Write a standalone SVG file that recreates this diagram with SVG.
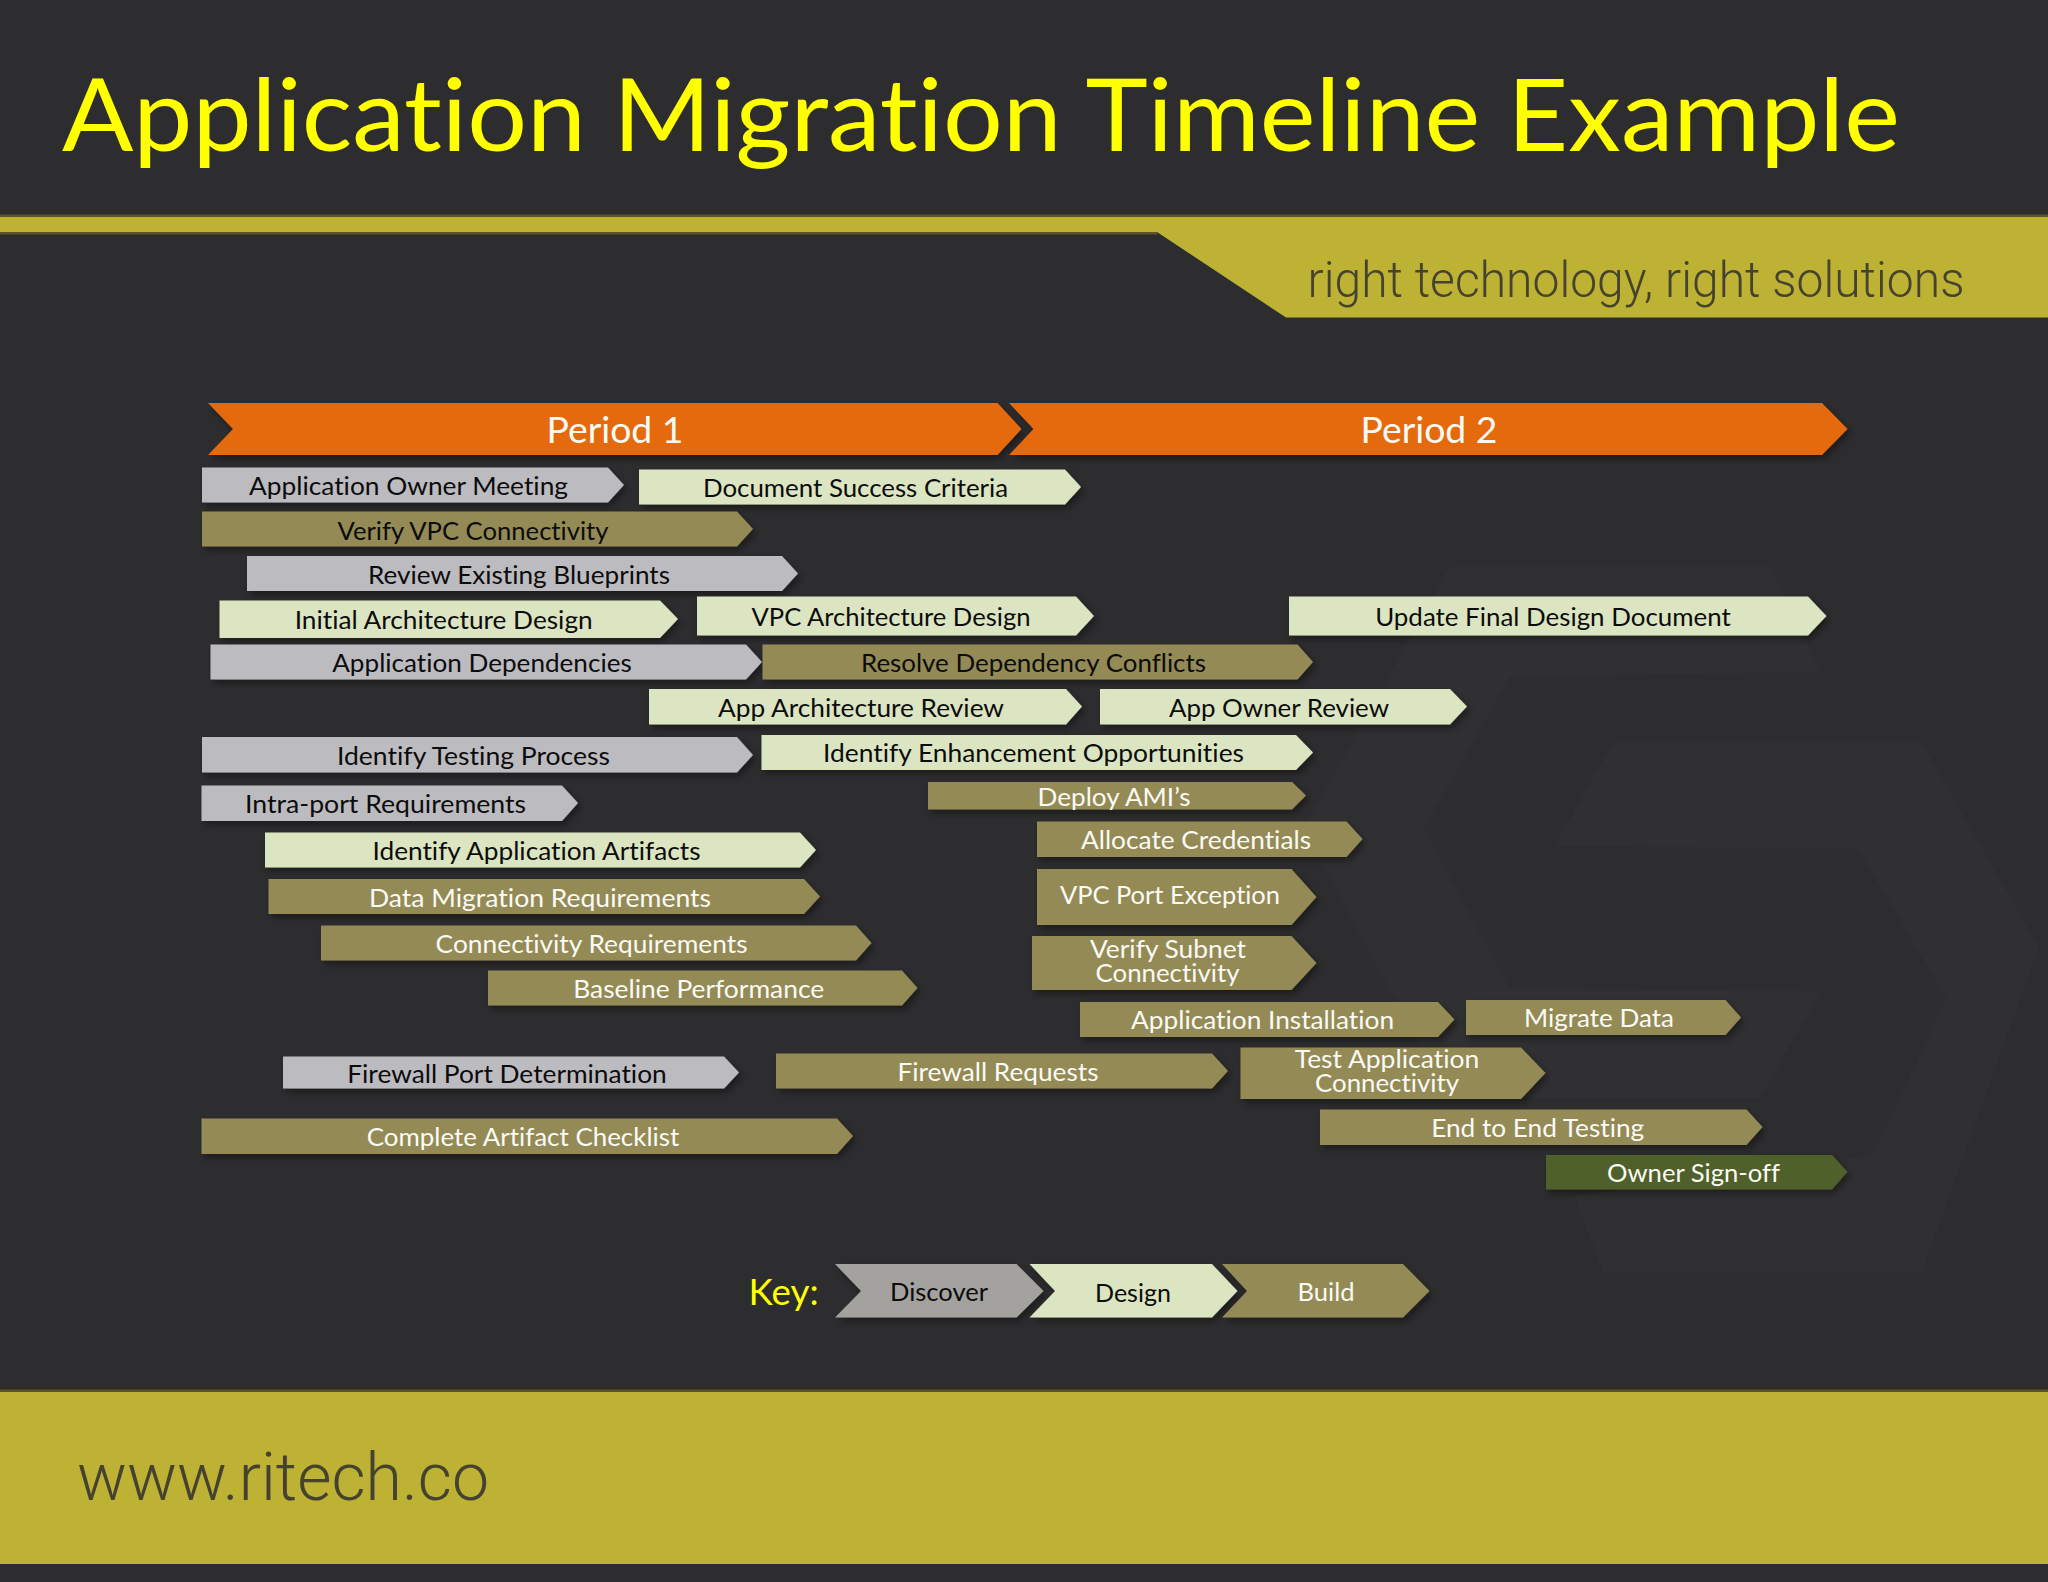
<svg xmlns="http://www.w3.org/2000/svg" width="2048" height="1582" viewBox="0 0 2048 1582">
<defs>
<filter id="sh" x="-5%" y="-20%" width="112%" height="150%"><feDropShadow dx="3" dy="4" stdDeviation="3.500" flood-color="#000" flood-opacity="0.38"/></filter>
</defs>
<style>
text{font-family:"Lato","Liberation Sans",sans-serif;text-anchor:middle;font-variant-ligatures:none}
.t{font-size:25.5px}
.w{fill:#fbfbf6}
.k{fill:#0c0c0c}
.bar{filter:url(#sh)}
.gray{fill:#bcbbc0}
.lime{fill:#dbe5c2}
.olive{fill:#948a55}
.dkgreen{fill:#4f6129}
.orange{fill:#e56b0d}
.stone{fill:#a3a29e}
.gold{fill:#bdb233}
.edge{fill:#5c5426}
.wm{fill:#302f31}
.brand{font-family:"Roboto","Liberation Sans",sans-serif;font-weight:300;fill:#45432f}
</style>
<rect width="2048" height="1582" fill="#2d2c2e"/>
<g id="watermark">
<polygon class="wm" points="1449,567 1770,567 1821,672 1510,677 1424,829 1510,988 1821,991 1760,1098 1447,1098 1304,829"/>
<polygon class="wm" points="1613,743 1922,743 2039,947 1922,1272 1603,1272 1574,1196 1873,1155 1946,998 1858,849 1554,846"/>
</g>
<g id="header">
<rect x="0" y="214.500" width="2048" height="3" class="edge"/>
<polygon class="edge" points="0,232 1157,232 1158,234.500 0,234.500"/>
<polygon class="gold" points="0,217 2048,217 2048,317.500 1286,317.500 1157,232 0,232"/>
<text x="981" y="151" font-size="100" fill="#ffff00" textLength="1838" lengthAdjust="spacingAndGlyphs">Application Migration Timeline Example</text>
<text class="brand" x="1636" y="296.500" font-size="50" textLength="657" lengthAdjust="spacingAndGlyphs">right technology, right solutions</text>
</g>
<g id="footer">
<rect x="0" y="1389.500" width="2048" height="3" class="edge"/>
<rect x="0" y="1392" width="2048" height="172" class="gold"/>
<text class="brand" x="283" y="1500" font-size="67" textLength="412" lengthAdjust="spacingAndGlyphs">www.ritech.co</text>
</g>
<g id="period-1"><polygon class="bar orange" points="208,403 997.500,403 1021.500,429 997.500,455 208,455 233,429"/><text class="w" x="615" y="442.700" font-size="36" textLength="137" lengthAdjust="spacingAndGlyphs">Period 1</text></g>
<g id="period-2"><polygon class="bar orange" points="1009,403 1822,403 1847.500,429 1822,455 1009,455 1033.500,429"/><text class="w" x="1429" y="442.700" font-size="36" textLength="137" lengthAdjust="spacingAndGlyphs">Period 2</text></g>

<g id="application-owner-meeting"><polygon class="bar gray" points="202,467.500 608,467.500 624,485 608,502.500 202,502.500"/><text class="t k" x="408.500" y="495" textLength="319" lengthAdjust="spacingAndGlyphs">Application Owner Meeting</text></g>
<g id="document-success-criteria"><polygon class="bar lime" points="639,469.500 1065,469.500 1081,487 1065,504.500 639,504.500"/><text class="t k" x="855.500" y="496.500" textLength="305" lengthAdjust="spacingAndGlyphs">Document Success Criteria</text></g>
<g id="verify-vpc-connectivity"><polygon class="bar olive" points="202,511.500 737,511.500 753,529 737,546.500 202,546.500"/><text class="t k" x="473" y="539.500" textLength="271" lengthAdjust="spacingAndGlyphs">Verify VPC Connectivity</text></g>
<g id="review-existing-blueprints"><polygon class="bar gray" points="247,556 782,556 798,573.500 782,591 247,591"/><text class="t k" x="519" y="584" textLength="302" lengthAdjust="spacingAndGlyphs">Review Existing Blueprints</text></g>
<g id="initial-architecture-design"><polygon class="bar lime" points="219.500,600.500 660,600.500 678,619 660,638 219.500,638"/><text class="t k" x="443.700" y="629" textLength="298" lengthAdjust="spacingAndGlyphs">Initial Architecture Design</text></g>
<g id="vpc-architecture-design"><polygon class="bar lime" points="697,596.500 1076,596.500 1094,616 1076,635.500 697,635.500"/><text class="t k" x="891" y="625.700" textLength="279" lengthAdjust="spacingAndGlyphs">VPC Architecture Design</text></g>
<g id="update-final-design-document"><polygon class="bar lime" points="1289,596.500 1808,596.500 1826.500,616 1808,635.500 1289,635.500"/><text class="t k" x="1553" y="626" textLength="355.600" lengthAdjust="spacingAndGlyphs">Update Final Design Document</text></g>
<g id="application-dependencies"><polygon class="bar gray" points="210.500,644.500 746,644.500 762,662 746,679.500 210.500,679.500"/><text class="t k" x="482" y="672" textLength="299.500" lengthAdjust="spacingAndGlyphs">Application Dependencies</text></g>
<g id="resolve-dependency-conflicts"><polygon class="bar olive" points="762.500,644.500 1297.500,644.500 1313,662 1297.500,679.500 762.500,679.500"/><text class="t k" x="1033.500" y="672" textLength="345" lengthAdjust="spacingAndGlyphs">Resolve Dependency Conflicts</text></g>
<g id="app-architecture-review"><polygon class="bar lime" points="649,689 1066,689 1082,706.500 1066,724.500 649,724.500"/><text class="t k" x="861" y="716.500" textLength="286" lengthAdjust="spacingAndGlyphs">App Architecture Review</text></g>
<g id="app-owner-review"><polygon class="bar lime" points="1100,689 1450,689 1467,706.500 1450,724.500 1100,724.500"/><text class="t k" x="1279" y="716.500" textLength="220" lengthAdjust="spacingAndGlyphs">App Owner Review</text></g>
<g id="identify-testing-process"><polygon class="bar gray" points="202,737 737,737 753,755 737,772.500 202,772.500"/><text class="t k" x="473.500" y="765" textLength="273" lengthAdjust="spacingAndGlyphs">Identify Testing Process</text></g>
<g id="identify-enhancement-opportunities"><polygon class="bar lime" points="761.500,735 1296,735 1313,752.500 1296,770 761.500,770"/><text class="t k" x="1033.500" y="762" textLength="421" lengthAdjust="spacingAndGlyphs">Identify Enhancement Opportunities</text></g>
<g id="deploy-amis"><polygon class="bar olive" points="928,782 1292,782 1306,795.500 1292,809.500 928,809.500"/><text class="t w" x="1114" y="805.500" textLength="153" lengthAdjust="spacingAndGlyphs">Deploy AMI’s</text></g>
<g id="intra-port-requirements"><polygon class="bar gray" points="201.500,785.500 562,785.500 578,803 562,821 201.500,821"/><text class="t k" x="385.600" y="813.400" textLength="281" lengthAdjust="spacingAndGlyphs">Intra-port Requirements</text></g>
<g id="allocate-credentials"><polygon class="bar olive" points="1037,821.500 1346.500,821.500 1362.500,839 1346.500,857 1037,857"/><text class="t w" x="1196" y="848.600" textLength="230" lengthAdjust="spacingAndGlyphs">Allocate Credentials</text></g>
<g id="identify-application-artifacts"><polygon class="bar lime" points="265,832.500 800,832.500 816,850 800,867.500 265,867.500"/><text class="t k" x="536.500" y="859.700" textLength="328" lengthAdjust="spacingAndGlyphs">Identify Application Artifacts</text></g>
<g id="vpc-port-exception"><polygon class="bar olive" points="1037,869 1291.500,869 1316.500,897 1291.500,925 1037,925"/><text class="t w" x="1170" y="903.500" textLength="220" lengthAdjust="spacingAndGlyphs">VPC Port Exception</text></g>
<g id="data-migration-requirements"><polygon class="bar olive" points="268.500,879 804,879 820,896.500 804,914 268.500,914"/><text class="t w" x="540" y="906.500" textLength="342" lengthAdjust="spacingAndGlyphs">Data Migration Requirements</text></g>
<g id="connectivity-requirements"><polygon class="bar olive" points="321,925.500 856,925.500 871.500,943 856,960.500 321,960.500"/><text class="t w" x="591.600" y="953.300" textLength="312" lengthAdjust="spacingAndGlyphs">Connectivity Requirements</text></g>
<g id="verify-subnet-connectivity"><polygon class="bar olive" points="1032,936 1291.500,936 1316.500,963 1291.500,990 1032,990"/><text class="t w" x="1168" y="957.500" textLength="156" lengthAdjust="spacingAndGlyphs">Verify Subnet</text><text class="t w" x="1167.500" y="981.700" textLength="144" lengthAdjust="spacingAndGlyphs">Connectivity</text></g>
<g id="baseline-performance"><polygon class="bar olive" points="488,970.500 902,970.500 917.500,988 902,1005.500 488,1005.500"/><text class="t w" x="698.700" y="997.700" textLength="251" lengthAdjust="spacingAndGlyphs">Baseline Performance</text></g>
<g id="application-installation"><polygon class="bar olive" points="1080,1002 1438,1002 1454.500,1019.500 1438,1037 1080,1037"/><text class="t w" x="1262.600" y="1029" textLength="263" lengthAdjust="spacingAndGlyphs">Application Installation</text></g>
<g id="migrate-data"><polygon class="bar olive" points="1466,1000 1725.500,1000 1741,1017.500 1725.500,1035 1466,1035"/><text class="t w" x="1599" y="1027" textLength="150" lengthAdjust="spacingAndGlyphs">Migrate Data</text></g>
<g id="firewall-port-determination"><polygon class="bar gray" points="283,1056.500 724,1056.500 739,1072.500 724,1088.500 283,1088.500"/><text class="t k" x="507" y="1082.500" textLength="319.500" lengthAdjust="spacingAndGlyphs">Firewall Port Determination</text></g>
<g id="firewall-requests"><polygon class="bar olive" points="776,1053.500 1212,1053.500 1228,1071 1212,1088.500 776,1088.500"/><text class="t w" x="998" y="1080.700" textLength="201" lengthAdjust="spacingAndGlyphs">Firewall Requests</text></g>
<g id="test-application-connectivity"><polygon class="bar olive" points="1240.500,1047.500 1521,1047.500 1545.500,1073 1521,1099 1240.500,1099"/><text class="t w" x="1387" y="1067.600" textLength="184.500" lengthAdjust="spacingAndGlyphs">Test Application</text><text class="t w" x="1387" y="1091.800" textLength="144" lengthAdjust="spacingAndGlyphs">Connectivity</text></g>
<g id="end-to-end-testing"><polygon class="bar olive" points="1320,1109.500 1746.500,1109.500 1762.500,1127 1746.500,1145 1320,1145"/><text class="t w" x="1537.700" y="1137" textLength="213" lengthAdjust="spacingAndGlyphs">End to End Testing</text></g>
<g id="complete-artifact-checklist"><polygon class="bar olive" points="201.500,1118.500 837,1118.500 853,1136 837,1154 201.500,1154"/><text class="t w" x="523" y="1145.800" textLength="312.500" lengthAdjust="spacingAndGlyphs">Complete Artifact Checklist</text></g>
<g id="owner-sign-off"><polygon class="bar dkgreen" points="1546,1155 1832,1155 1847.500,1172 1832,1189.500 1546,1189.500"/><text class="t w" x="1693.500" y="1182" textLength="173" lengthAdjust="spacingAndGlyphs">Owner Sign-off</text></g>

<g id="key-label"><text x="783.600" y="1305" font-size="37" fill="#ffff00" textLength="70" lengthAdjust="spacingAndGlyphs">Key:</text></g>
<g id="key-discover"><polygon class="bar stone" points="835,1264 1016.500,1264 1043.500,1291 1016.500,1317.500 835,1317.500 861,1291"/><text class="t k" x="939" y="1301" textLength="98" lengthAdjust="spacingAndGlyphs">Discover</text></g>
<g id="key-design"><polygon class="bar lime" points="1029.500,1264 1212,1264 1237.500,1291 1212,1317.500 1029.500,1317.500 1055,1291"/><text class="t k" x="1133" y="1301.500" textLength="76" lengthAdjust="spacingAndGlyphs">Design</text></g>
<g id="key-build"><polygon class="bar olive" points="1222,1264 1403,1264 1429.500,1291 1403,1317.500 1222,1317.500 1247,1291"/><text class="t w" x="1326" y="1301" textLength="57" lengthAdjust="spacingAndGlyphs">Build</text></g>
</svg>
